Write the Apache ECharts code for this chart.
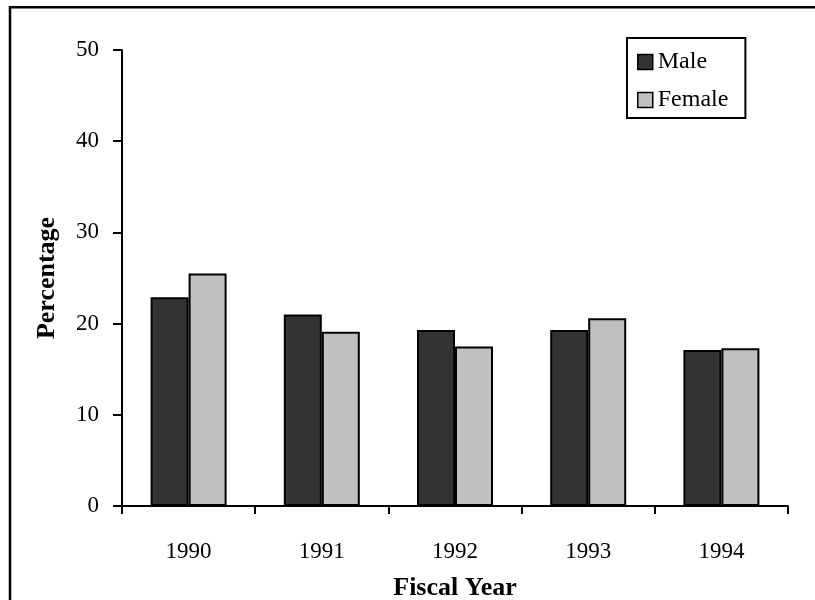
<!DOCTYPE html>
<html>
<head>
<meta charset="utf-8">
<script src="https://cdn.jsdelivr.net/npm/echarts@6/dist/echarts.min.js"></script>
<style>html,body{margin:0;padding:0;background:#fff}#c{width:815px;height:600px}</style>
</head>
<body>
<div id="c"></div>
<script>
const categories = ['1990', '1991', '1992', '1993', '1994'];
const maleValues = [22.9, 21.0, 19.3, 19.3, 17.1];
const femaleValues = [25.5, 19.1, 17.5, 20.6, 17.3];
const yTicks = [0, 10, 20, 30, 40, 50];

const FONT = 'Liberation Serif';
const chart = echarts.init(document.getElementById('c'), null, {renderer: 'canvas'});
chart.setOption({
  animation: false,
  backgroundColor: '#fff',
  textStyle: {fontFamily: FONT, color: '#000'},
  graphic: [{
    type: 'rect', z: 100, silent: true,
    shape: {x: 10, y: 7.3, width: 900, height: 800},
    style: {fill: 'none', stroke: '#000', lineWidth: 2.5}
  }],
  legend: {
    orient: 'vertical', left: 627, top: 38,
    data: ['Male', 'Female'],
    icon: 'rect', itemWidth: 15, itemHeight: 15, itemGap: 14, itemTextGap: 11,
    padding: [12, 17, 6, 10],
    borderColor: '#000', borderWidth: 2, backgroundColor: '#fff',
    textStyle: {fontFamily: FONT, fontSize: 24, color: '#000'},
    itemStyle: {borderColor: '#000', borderWidth: 1.5}
  },
  grid: {left: 122, right: 27, top: 50, bottom: 94, containLabel: false, outerBoundsMode: 'none'},
  xAxis: {
    type: 'category', data: categories,
    name: 'Fiscal Year', nameLocation: 'middle', nameGap: 69,
    nameTextStyle: {fontFamily: FONT, fontSize: 26, fontWeight: 'bold', color: '#000'},
    axisLine: {lineStyle: {color: '#000', width: 2}},
    axisTick: {show: true, length: 8, alignWithLabel: false, lineStyle: {color: '#000', width: 2}},
    axisLabel: {fontFamily: FONT, fontSize: 23, color: '#000', margin: 34},
    splitLine: {show: false}
  },
  yAxis: {
    type: 'value', min: yTicks[0], max: yTicks[yTicks.length - 1], interval: 10,
    name: 'Percentage', nameLocation: 'middle', nameGap: 62,
    nameTextStyle: {fontFamily: FONT, fontSize: 26, fontWeight: 'bold', color: '#000'},
    axisLine: {show: true, lineStyle: {color: '#000', width: 2}},
    axisTick: {show: true, length: 9, lineStyle: {color: '#000', width: 2}},
    axisLabel: {fontFamily: FONT, fontSize: 23, color: '#000', margin: 23},
    splitLine: {show: false}
  },
  series: [{
    name: 'Male', type: 'bar', data: maleValues,
    barWidth: 38, barGap: '0%',
    itemStyle: {color: '#333333', borderColor: '#000', borderWidth: 2}
  }, {
    name: 'Female', type: 'bar', data: femaleValues,
    barWidth: 38,
    itemStyle: {color: '#c0c0c0', borderColor: '#000', borderWidth: 2}
  }]
});
</script>
</body>
</html>
